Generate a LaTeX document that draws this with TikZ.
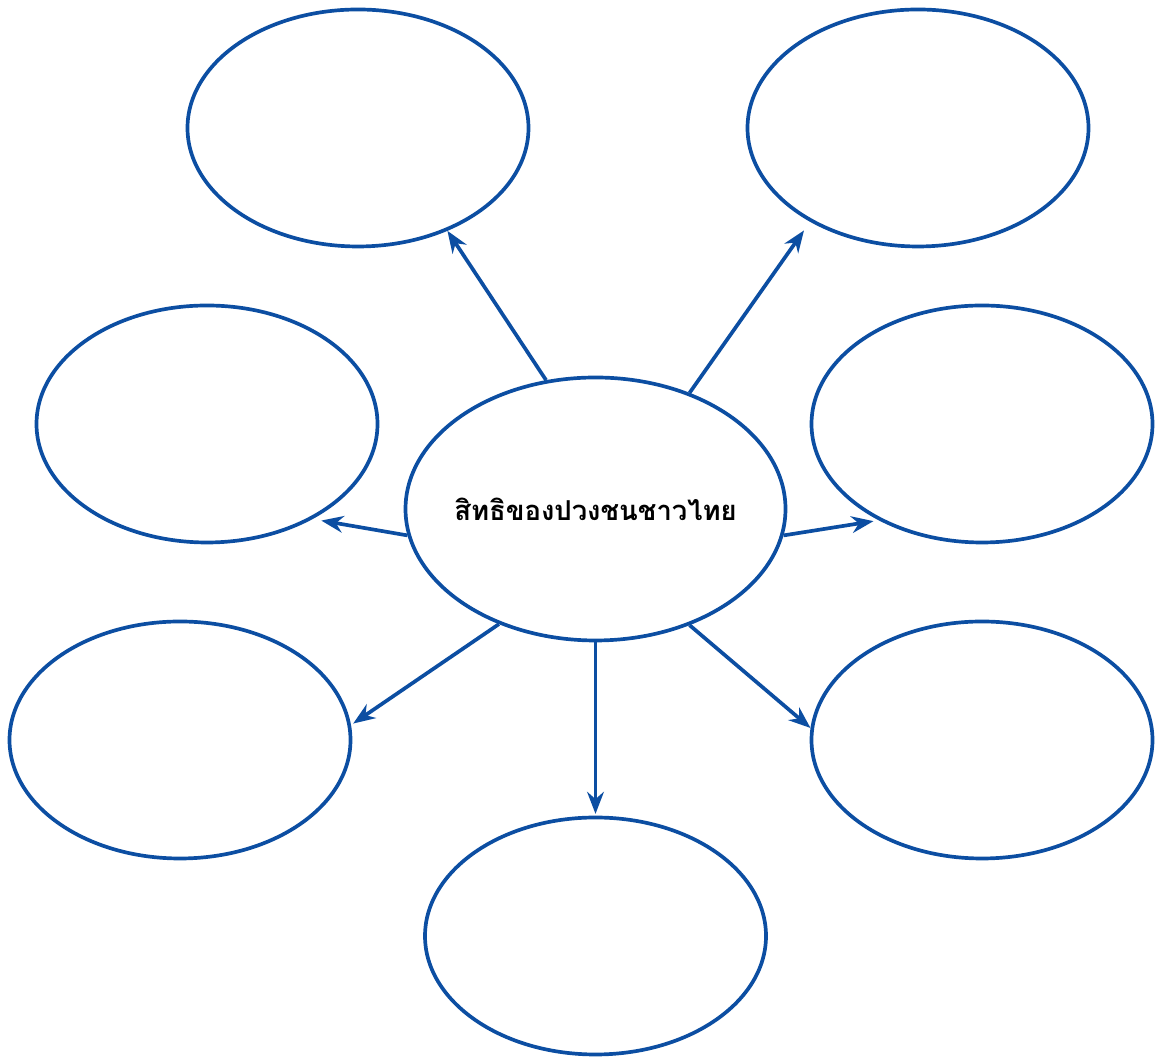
\documentclass[tikz,border=0pt]{standalone}
\usepackage{fontspec}
\usepackage{tikz}
\pgfdeclarelayer{nodelayer}
\pgfdeclarelayer{edgelayer}
\pgfsetlayers{edgelayer,nodelayer,main}
\usetikzlibrary{arrows.meta,shapes.geometric}
\newfontfamily\thaifont[Script=Thai]{Loma}
\definecolor{mapblue}{RGB}{12,78,162}
\tikzset{
	bubble/.style={ellipse,draw=mapblue,line width=2.1pt,minimum width=6.82cm,minimum height=4.74cm},
	hub/.style={ellipse,draw=mapblue,line width=2.1pt,inner xsep=-0.25cm,minimum width=7.6cm,minimum height=5.26cm,font=\thaifont\bfseries\fontsize{15.6}{18}\selectfont},
	link/.style={-{Stealth[length=12.5pt,width=9.5pt]},draw=mapblue,line width=2.1pt}
}

\begin{document}
\begin{tikzpicture}
	\useasboundingbox (0, 0) rectangle (23.18, 21.14);
	\begin{pgfonlayer}{nodelayer}
		\node [hub] (main) at (11.91, 10.96) {สิทธิของปวงชนชาวไทย};
		\node [bubble] (tl) at (7.16, 18.58) {};
		\node [bubble] (tr) at (18.36, 18.58) {};
		\node [bubble] (ml) at (4.14, 12.66) {};
		\node [bubble] (mr) at (19.64, 12.66) {};
		\node [bubble] (bl) at (3.6, 6.34) {};
		\node [bubble] (br) at (19.64, 6.34) {};
		\node [bubble] (b) at (11.91, 2.42) {};
	\end{pgfonlayer}
	\begin{pgfonlayer}{edgelayer}
		\draw [link] (main.111) to (tl.-49);
		\draw [link,shorten >=6pt] (main.51) to (tr.-139);
		\draw [link,shorten >=5pt] (main.-172) to (ml.-42);
		\draw [link,shorten >=3pt] (main.-8) to (mr.-137);
		\draw [link,shorten >=1.5pt] (main.-130) to (bl.5);
		\draw [link] (main.-51) to (br.176);
		\draw [link,shorten >=1pt] (main.-90) to (b.90);
	\end{pgfonlayer}
\end{tikzpicture}
\end{document}
